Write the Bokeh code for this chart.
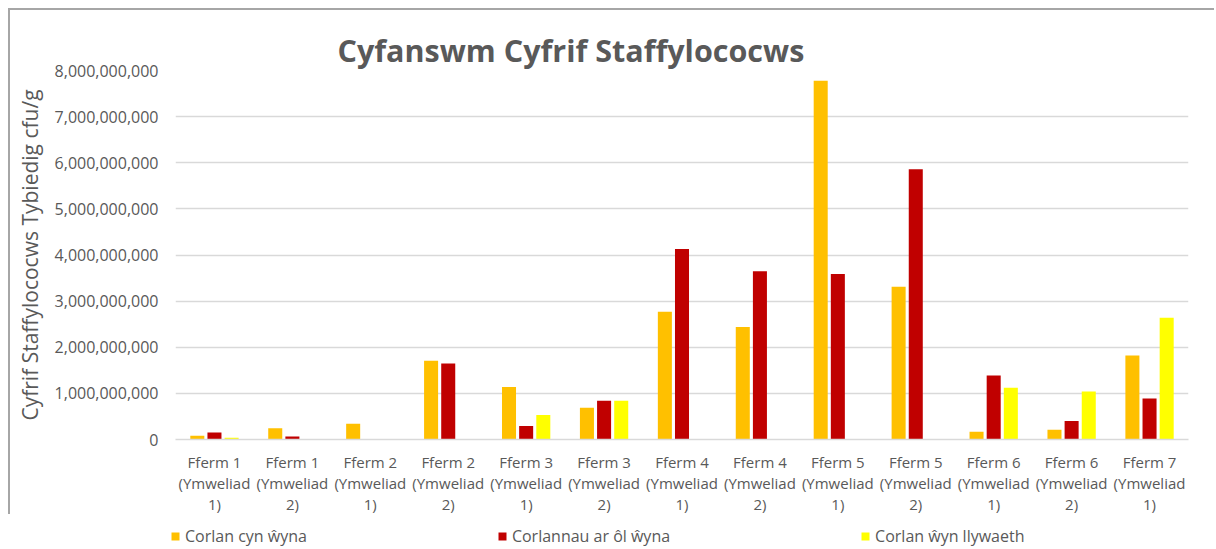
from bokeh.plotting import figure
from bokeh.layouts import column
from bokeh.models import ColumnDataSource, FactorRange, NumeralTickFormatter, Legend, LegendItem, FixedTicker
from bokeh.transform import dodge
from bokeh.embed import file_html
from bokeh.resources import INLINE

categories = [
    "Fferm 1\n(Ymweliad\n1)", "Fferm 1\n(Ymweliad\n2)",
    "Fferm 2\n(Ymweliad\n1)", "Fferm 2\n(Ymweliad\n2)",
    "Fferm 3\n(Ymweliad\n1)", "Fferm 3\n(Ymweliad\n2)",
    "Fferm 4\n(Ymweliad\n1)", "Fferm 4\n(Ymweliad\n2)",
    "Fferm 5\n(Ymweliad\n1)", "Fferm 5\n(Ymweliad\n2)",
    "Fferm 6\n(Ymweliad\n1)", "Fferm 6\n(Ymweliad\n2)",
    "Fferm 7\n(Ymweliad\n1)",
]
series_names = ["Corlan cyn ŵyna", "Corlannau ar ôl ŵyna", "Corlan ŵyn llywaeth"]
corlan_cyn_wyna = [0.08e9, 0.245e9, 0.34e9, 1.71e9, 1.14e9, 0.69e9, 2.77e9, 2.44e9, 7.78e9, 3.31e9, 0.17e9, 0.21e9, 1.82e9]
corlannau_ar_ol_wyna = [0.15e9, 0.065e9, None, 1.65e9, 0.29e9, 0.84e9, 4.13e9, 3.65e9, 3.59e9, 5.86e9, 1.39e9, 0.40e9, 0.89e9]
corlan_wyn_llywaeth = [0.04e9, None, None, None, 0.53e9, 0.84e9, None, None, None, None, 1.12e9, 1.04e9, 2.64e9]
y_ticks = [0, 1e9, 2e9, 3e9, 4e9, 5e9, 6e9, 7e9, 8e9]

colors = ["#FFC000", "#C00000", "#FFFF00"]
FONT = "Open Sans"
GREY = "#595959"

source = ColumnDataSource(data=dict(
    cat=categories,
    a=[float("nan") if v is None else v for v in corlan_cyn_wyna],
    b=[float("nan") if v is None else v for v in corlannau_ar_ol_wyna],
    c=[float("nan") if v is None else v for v in corlan_wyn_llywaeth],
))

p = figure(x_range=FactorRange(*categories), y_range=(0, 8e9),
           width=1206, height=506, output_backend="svg", toolbar_location=None,
           min_border_left=165, min_border_right=28, min_border_top=60, min_border_bottom=76)
p.styles = {"margin-left": "8px", "margin-top": "8px",
            "border-top": "2px solid #a6a6a6", "border-left": "2px solid #a6a6a6"}
p.outline_line_color = None
p.background_fill_color = "white"
p.border_fill_color = "white"

renderers = []
for col, off, colr in zip(["a", "b", "c"], [-0.22, 0.0, 0.22], colors):
    r = p.vbar(x=dodge("cat", off, range=p.x_range), top=col, width=0.18, source=source,
               fill_color=colr, line_color=None)
    renderers.append(r)

p.title.text = "Cyfanswm Cyfrif Staffylococws"
p.title.align = "left"
p.title.offset = 162
p.title.text_font = FONT
p.title.text_font_size = "30.5px"
p.title.text_font_style = "bold"
p.title.text_color = GREY
p.title.standoff = 0

p.yaxis.ticker = FixedTicker(ticks=y_ticks)
p.yaxis.formatter = NumeralTickFormatter(format="0,0")
p.yaxis.axis_line_color = None
p.yaxis.major_tick_line_color = None
p.yaxis.minor_tick_line_color = None
p.yaxis.major_tick_out = 0
p.yaxis.major_label_standoff = 17
p.yaxis.major_label_text_font = FONT
p.yaxis.major_label_text_font_size = "16px"
p.yaxis.major_label_text_color = GREY
p.yaxis.axis_label = "Cyfrif Staffylococws Tybiedig cfu/g"
p.yaxis.axis_label_text_font = FONT
p.yaxis.axis_label_text_font_size = "21px"
p.yaxis.axis_label_text_font_style = "normal"
p.yaxis.axis_label_text_color = GREY
p.yaxis.axis_label_standoff = 8

p.xaxis.axis_line_color = "#d9d9d9"
p.xaxis.axis_line_width = 1.5
p.xaxis.major_tick_line_color = None
p.xaxis.major_tick_out = 0
p.xaxis.major_label_standoff = 12
p.xaxis.major_label_text_font = FONT
p.xaxis.major_label_text_font_size = "15px"
p.xaxis.major_label_text_color = GREY
p.xaxis.major_label_text_line_height = 1.05
p.xaxis.major_label_orientation = "horizontal"

p.xgrid.grid_line_color = None
p.ygrid.grid_line_color = "#d9d9d9"
p.ygrid.grid_line_width = 1.5

# legend strip below the chart (its frame is aligned with the chart's frame by the column)
pl = figure(width=1216, height=33, x_range=(0, 1), y_range=(0, 1),
            output_backend="svg", toolbar_location=None,
            x_axis_location=None, y_axis_location=None,
            min_border_left=0, min_border_right=0, min_border_top=0, min_border_bottom=0)
pl.outline_line_color = None
pl.grid.visible = False
pl.border_fill_color = "white"
leg_renderers = []
for colr in colors:
    leg_renderers.append(pl.scatter(x=[float("nan")], y=[float("nan")], marker="square",
                                    fill_color=colr, line_color=None))

items = [LegendItem(label=name, renderers=[r]) for name, r in zip(series_names, leg_renderers)]
lg = Legend(items=items, location=(0, 0), orientation="horizontal",
            padding=0, margin=0, spacing=185,
            glyph_width=20, glyph_height=20, label_standoff=0,
            label_text_font=FONT, label_text_font_size="16px", label_text_color=GREY,
            border_line_color=None, background_fill_alpha=0)
pl.add_layout(lg, "center")

layout = column(p, pl, spacing=0)
open("out.html", "w").write(file_html(layout, INLINE))
